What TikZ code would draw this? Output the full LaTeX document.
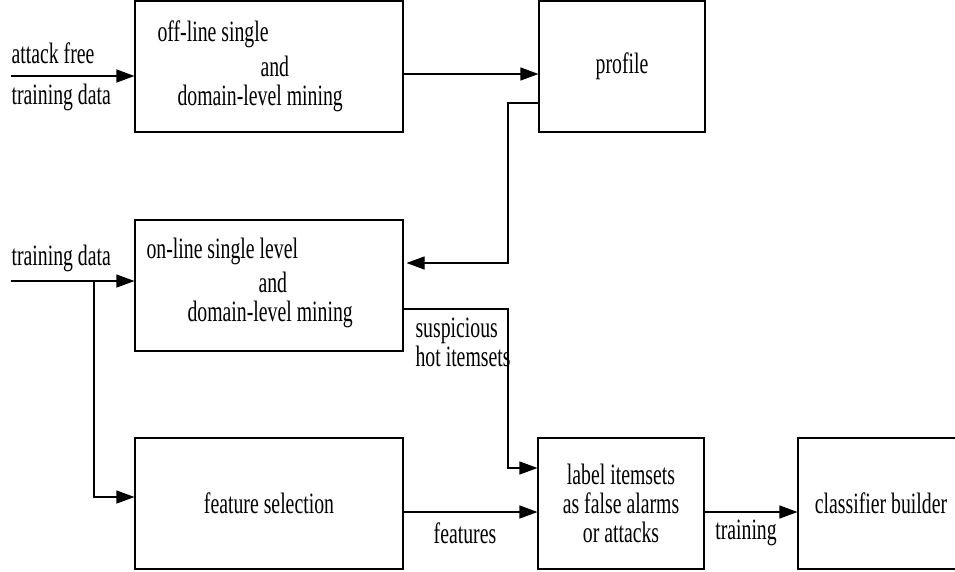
\documentclass[tikz,border=0pt]{standalone}
\usepackage{fontspec}
\setmainfont{Liberation Serif}[FakeStretch=0.67]
\usetikzlibrary{arrows.meta}
\begin{document}
\begin{tikzpicture}[x=1pt,y=-1pt,line width=1.1pt,font=\fontsize{29.5}{29}\selectfont,
  box/.style={draw,minimum width=268pt,minimum height=131pt,inner sep=0pt},
  arr/.style={-{Triangle[length=18pt,width=13pt]}},
  txt/.style={inner sep=0pt,anchor=west}]
\useasboundingbox (0,0) rectangle (955,571);
\node[box] (off) at (269,66.5) {};
\node[box,minimum width=166pt] (prof) at (622,66.5) {profile};
\node[box] (onl) at (269,285.5) {};
\node[box] (feat) at (269,503.5) {feature selection};
\node[box,minimum width=166pt,align=center] (lab) at (621,503.5) {label itemsets\\as false alarms\\or attacks};
\node[box,minimum width=166pt] (cls) at (881,503.5) {classifier builder};
% mining box texts
\node[txt] (off1) at (157,34) {off-line single};
\node[txt] (off2) at (260,66) {and};
\node[txt] (off3) at (177,98) {domain-level mining};
\node[txt] (onl1) at (146,251) {on-line single level};
\node[txt] (onl2) at (258,282) {and};
\node[txt] (onl3) at (187,314) {domain-level mining};
\coordinate (in1) at (11,76);
\coordinate (in2) at (11,281);
\coordinate (bus) at (508,0);
\coordinate (tap) at (94,0);
\node[txt] (af) at (11,53) {attack free};
\node[txt] (td1) at (11,97) {training data};
\node[txt] (td2) at (11,258) {training data};
\draw[arr] (in1) -- (in1 -| off.west);
\draw[arr] (off.east|-0,74) -- (prof.west|-0,74);
\draw[arr] (prof.west|-0,103) -| (bus|-0,263) -- ([xshift=3pt]onl.east|-0,263);
\draw[arr] (in2) -- (in2 -| onl.west);
\draw[arr] (tap|-in2) |- (feat.west|-0,497);
\draw[arr] (onl.east|-0,309) -| (bus|-0,468) -- (lab.west|-0,468);
\node[txt,align=left] (sus) at (415,342.5) {suspicious\\hot itemsets};
\draw[arr] (feat.east|-0,512) -- (lab.west|-0,512);
\node (fl) at (465,533) {features};
\draw[arr] (lab.east|-0,512) -- (cls.west|-0,512);
\node (tl) at (746,533) {training};
\end{tikzpicture}
\end{document}
